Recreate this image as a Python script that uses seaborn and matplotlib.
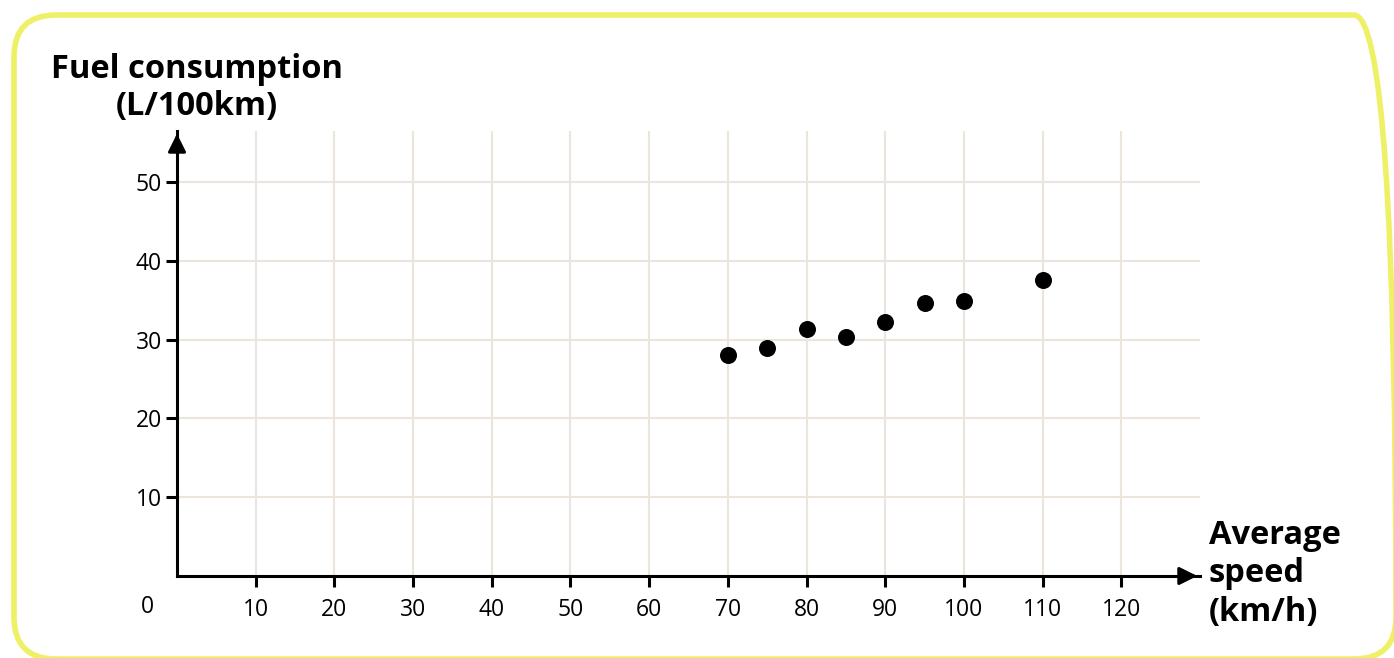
import matplotlib
matplotlib.use("Agg")
import matplotlib.pyplot as plt
import matplotlib.transforms as mtransforms
import seaborn as sns
import pandas as pd
from matplotlib.patches import FancyBboxPatch

speed = [70, 75, 80, 85, 90, 95, 100, 110]
fuel = [28.1, 29.0, 31.3, 30.4, 32.2, 34.6, 34.9, 37.6]
x_ticks = [10, 20, 30, 40, 50, 60, 70, 80, 90, 100, 110, 120]
y_ticks = [10, 20, 30, 40, 50]

sns.set_theme(style="white")
plt.rcParams['font.family'] = ['Open Sans', 'DejaVu Sans']

df = pd.DataFrame({"speed": speed, "fuel": fuel})

W, H = 1394, 658
fig = plt.figure(figsize=(W / 100, H / 100), dpi=100)
fig.patch.set_facecolor("white")

# rounded yellow frame, in pixel coordinates (origin bottom-left)
frame = FancyBboxPatch((14, H - 659), 1396 - 14, 659 - 15,
                       boxstyle="round,pad=0,rounding_size=42",
                       transform=mtransforms.IdentityTransform(), fill=False,
                       edgecolor="#eef065", linewidth=4)
fig.patches.append(frame)

ax = fig.add_axes([177 / W, 1 - 576 / H, (1200 - 177) / W, (576 - 131) / H])
ax.set_facecolor("white")

sns.scatterplot(data=df, x="speed", y="fuel", ax=ax, color="black", s=150,
                edgecolor="black", linewidth=0, zorder=5, clip_on=False)

ax.set_xlim(0, 130)
ax.set_ylim(0, 56.5)
ax.set_xticks(x_ticks)
ax.set_yticks(y_ticks)
ax.set_xticklabels([str(v) for v in x_ticks])
ax.set_yticklabels([str(v) for v in y_ticks])

ax.grid(True, color="#ebe5dc", linewidth=1.5)
ax.set_axisbelow(True)
for side in ["top", "right"]:
    ax.spines[side].set_visible(False)
for side in ["left", "bottom"]:
    ax.spines[side].set_color("black")
    ax.spines[side].set_linewidth(2.2)
    ax.spines[side].set_zorder(4)

ax.tick_params(axis="both", which="both", direction="out", length=8, width=2.2,
               color="black", labelsize=16.5, labelcolor="black")
ax.tick_params(axis="x", pad=8, bottom=True)
ax.tick_params(axis="y", pad=3, left=True)
ax.set_xlabel("")
ax.set_ylabel("")

# arrow heads
ax.annotate("", xy=(1.0, 0), xytext=(0.985, 0), xycoords="axes fraction",
            arrowprops=dict(arrowstyle="-|>,head_length=0.9,head_width=0.45",
                            color="black", lw=2.2), annotation_clip=False)
ax.annotate("", xy=(0, 1.0), xytext=(0, 0.96), xycoords="axes fraction",
            arrowprops=dict(arrowstyle="-|>,head_length=0.9,head_width=0.45",
                            color="black", lw=2.2), annotation_clip=False)

# origin label
fig.text(147 / W, 1 - 607 / H, "0", ha="center", va="center", fontsize=16.5, color="black")

# axis titles
tkw = dict(fontsize=23.5, fontweight="bold", color="black", va="center")
fig.text(197 / W, 1 - 69 / H, "Fuel consumption", ha="center", **tkw)
fig.text(197 / W, 1 - 106 / H, "(L/100km)", ha="center", **tkw)
fig.text(1209 / W, 1 - 535 / H, "Average", ha="left", **tkw)
fig.text(1209 / W, 1 - 574 / H, "speed", ha="left", **tkw)
fig.text(1209 / W, 1 - 613 / H, "(km/h)", ha="left", **tkw)

fig.savefig("out.png", dpi=100, facecolor="white")
